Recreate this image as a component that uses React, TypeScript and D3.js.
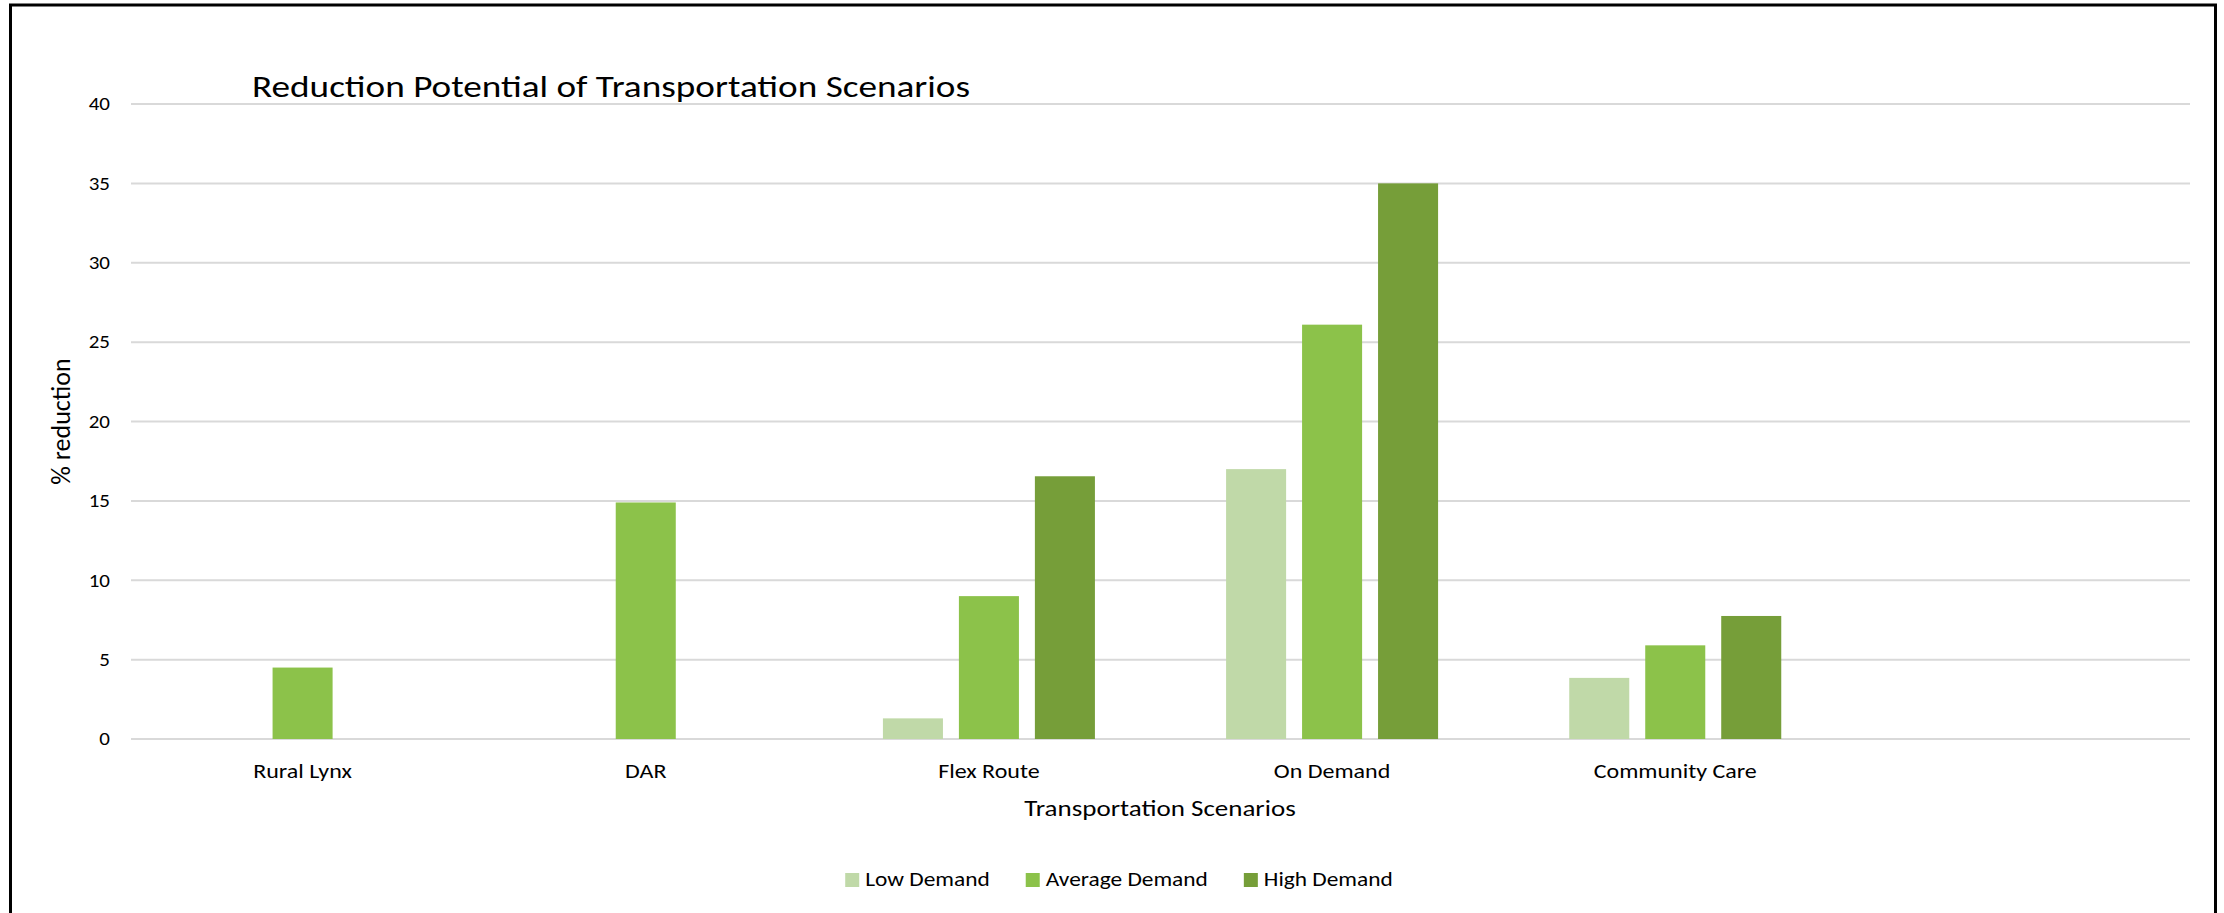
import React, { useLayoutEffect, useRef, useState } from "react";
import * as d3 from "d3";

const categories = ["Rural Lynx", "DAR", "Flex Route", "On Demand", "Community Care", ""];
const seriesNames = ["Low Demand", "Average Demand", "High Demand"];
const lowDemand: (number | null)[] = [null, null, 1.3, 17.0, 3.85, null];
const averageDemand: (number | null)[] = [4.5, 14.9, 9.0, 26.1, 5.9, null];
const highDemand: (number | null)[] = [null, null, 16.55, 35.0, 7.75, null];
const yTicks = [0, 5, 10, 15, 20, 25, 30, 35, 40];
const colors = ["#C0D9A8", "#8CC24A", "#769E39"];

const W = 2224;
const H = 913;
const FONT = "Carlito, Calibri, Lato, 'Open Sans', sans-serif";
const SX = 1.2;

function T(props: { x: number; y: number; size: number; anchor?: string; dy?: string; children: React.ReactNode; tref?: (el: SVGTextElement | null) => void }) {
  return (
    <text
      ref={props.tref}
      transform={`translate(${props.x},${props.y}) scale(${SX},1)`}
      dy={props.dy}
      textAnchor={props.anchor || "start"}
      fontSize={props.size}
      fill="#000"
    >
      {props.children}
    </text>
  );
}

export default function App() {
  const series = [lowDemand, averageDemand, highDemand];
  const x = d3.scaleBand<string>().domain(categories.map((c, i) => i + ":" + c)).range([131, 2190]).paddingInner(0).paddingOuter(0);
  const bw = x.bandwidth();
  const groupW = 212;
  const xs = d3.scaleBand<string>().domain(seriesNames).range([bw / 2 - groupW / 2, bw / 2 + groupW / 2]).paddingInner(0.21).paddingOuter(0);
  const y = d3.scaleLinear().domain([0, 40]).range([739, 104]);

  const legendRefs = useRef<(SVGTextElement | null)[]>([]);
  const [legendW, setLegendW] = useState<number[]>([125, 164, 130]);
  useLayoutEffect(() => {
    const w = legendRefs.current.map((t) => (t ? t.getComputedTextLength() * SX : 120));
    setLegendW(w);
  }, []);
  const sw = 14, sgap = 6, igap = 36;
  const totalLegend = legendW.reduce((a, b) => a + b, 0) + 3 * (sw + sgap) + 2 * igap;
  let lx = 1119 - totalLegend / 2;
  const legendX: number[] = [];
  legendW.forEach((w) => {
    legendX.push(lx);
    lx += sw + sgap + w + igap;
  });

  return (
    <svg width={W} height={H} style={{ position: "absolute", left: 0, top: 0, background: "#fff" }} fontFamily={FONT}>
      <rect x={0} y={0} width={W} height={H} fill="#fff" />
      <rect x={10.5} y={5} width={2205} height={H + 20} fill="none" stroke="#000" strokeWidth={3} />
      <T x={252} y={97} size={31}>Reduction Potential of Transportation Scenarios</T>
      {yTicks.map((t) => (
        <g key={t}>
          <line x1={131} x2={2190} y1={y(t)} y2={y(t)} stroke="#D9D9D9" strokeWidth={2} />
          <T x={110} y={y(t)} dy="0.36em" anchor="end" size={17.5}>{t}</T>
        </g>
      ))}
      {categories.map((c, i) => {
        const x0 = x(i + ":" + c)!;
        return (
          <g key={i} transform={`translate(${x0},0)`}>
            {series.map((s, k) => {
              const v = s[i];
              if (v == null) return null;
              return <rect key={k} x={xs(seriesNames[k])!} y={y(v)} width={xs.bandwidth()} height={y(0) - y(v)} fill={colors[k]} />;
            })}
            <T x={bw / 2} y={778} anchor="middle" size={20}>{c}</T>
          </g>
        );
      })}
      <T x={1160} y={816} anchor="middle" size={22.5}>Transportation Scenarios</T>
      <text transform={`translate(70,${(y(0) + y(40)) / 2}) rotate(-90)`} textAnchor="middle" fontSize={26} fill="#000">% reduction</text>
      {seriesNames.map((n, k) => (
        <g key={n} transform={`translate(${legendX[k]},0)`}>
          <rect x={0} y={873} width={sw} height={14} fill={colors[k]} />
          <T tref={(el) => { legendRefs.current[k] = el; }} x={sw + sgap} y={886} size={19.5}>{n}</T>
        </g>
      ))}
    </svg>
  );
}
